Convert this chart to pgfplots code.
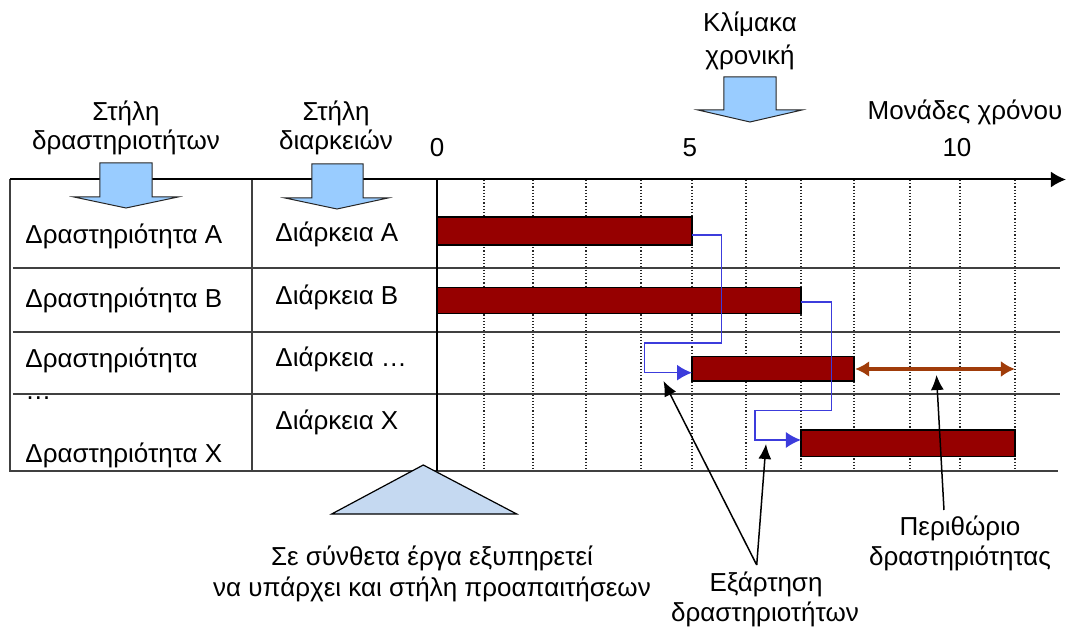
\documentclass[border=0pt]{standalone}
\usepackage{fontspec}
\setmainfont{Liberation Sans}
\usepackage{pgfplots}
\pgfplotsset{compat=1.18}
\usetikzlibrary{arrows.meta}
\definecolor{barred}{RGB}{150,0,0}
\definecolor{slack}{RGB}{160,60,10}
\definecolor{dep}{RGB}{60,60,220}
\definecolor{blk}{RGB}{153,204,255}
\definecolor{tri}{RGB}{197,217,241}
\begin{document}
\begin{tikzpicture}[font=\fontsize{13}{15.6}\selectfont]
\begin{axis}[width=535.5pt,height=315pt,scale only axis,hide axis,clip=false,
  xmin=-8.5686,xmax=12.4314,ymin=0,ymax=630,y dir=reverse]
\coordinate (SW) at (rel axis cs:0,0);
\coordinate (NE) at (rel axis cs:1,1);
% dotted time grid
\pgfplotsinvokeforeach{0.922,1.882,2.922,4.0,5.0,6.059,7.137,8.176,9.275,10.255,11.333}{
  \addplot[densely dotted, black!85, line width=0.6pt] coordinates {(#1,180) (#1,471)};
}
% table lines
\addplot[black!75, line width=1pt] coordinates {(-8.314,268.3) (12.216,268.3)};
\addplot[black!75, line width=1pt] coordinates {(-8.314,332.5) (12.216,332.5)};
\addplot[black!75, line width=1pt] coordinates {(-8.314,394) (12.216,394)};
\addplot[black!75, line width=1pt] coordinates {(-8.39,471.5) (12.18,471.5)};
\addplot[black!75, line width=1pt] coordinates {(-8.373,179.5) (-8.373,471.5)};
\addplot[black!75, line width=1pt] coordinates {(-3.627,179.5) (-3.627,471.5)};
\addplot[black, line width=0.6pt] coordinates {(0,179.5) (0,471.5)};
\addplot[black, line width=1pt, -{Latex[length=7.5pt,width=8pt]}] coordinates {(-8.373,179.5) (12.333,179.5)};
% bars
\addplot[fill=barred, draw=black, line width=0.6pt] coordinates {(0,217) (5,217) (5,245) (0,245)} -- cycle;
\addplot[fill=barred, draw=black, line width=0.6pt] coordinates {(0,287.3) (7.137,287.3) (7.137,313.3) (0,313.3)} -- cycle;
\addplot[fill=barred, draw=black, line width=0.6pt] coordinates {(5,356.3) (8.176,356.3) (8.176,381) (5,381)} -- cycle;
\addplot[fill=barred, draw=black, line width=0.6pt] coordinates {(7.137,430) (11.333,430) (11.333,456.7) (7.137,456.7)} -- cycle;
% dependencies
\addplot[dep, line width=0.8pt, -{Latex[length=7.5pt,width=8pt]}] coordinates {(5,235) (5.58,235) (5.58,343.3) (4.071,343.3) (4.071,372.7) (5,372.7)};
\addplot[dep, line width=0.8pt, -{Latex[length=7.5pt,width=8pt]}] coordinates {(7.137,302.3) (7.733,302.3) (7.733,410.7) (6.231,410.7) (6.231,440) (7.137,440)};
% slack
\addplot[slack, line width=1.6pt, {Latex[length=7pt,width=8pt]}-{Latex[length=7pt,width=8pt]}] coordinates {(8.2,369) (11.333,369)};
% annotation arrows
\addplot[black, line width=0.75pt, -{Latex[length=7.5pt,width=6.5pt]}] coordinates {(6.269,565) (4.441,381)};
\addplot[black, line width=0.75pt, -{Latex[length=7.5pt,width=6.5pt]}] coordinates {(6.269,565) (6.451,444)};
\addplot[black, line width=0.75pt, -{Latex[length=7.5pt,width=6.5pt]}] coordinates {(9.941,510) (9.794,375)};
% block arrows
\addplot[fill=blk, draw=black!85, line width=0.5pt] coordinates {(-6.608,163) (-5.588,163) (-5.588,197) (-5.078,197) (-6.098,208) (-7.118,197) (-6.608,197)} -- cycle;
\addplot[fill=blk, draw=black!85, line width=0.5pt] coordinates {(-2.451,164) (-1.451,164) (-1.451,198) (-0.961,198) (-1.961,209) (-2.980,198) (-2.451,198)} -- cycle;
\addplot[fill=blk, draw=black!85, line width=0.5pt] coordinates {(5.627,77) (6.647,77) (6.647,110) (7.157,110) (6.137,122) (5.118,110) (5.627,110)} -- cycle;
% triangle
\addplot[fill=tri, draw=black, line width=0.6pt] coordinates {(-0.269,465) (1.563,514) (-2.065,514)} -- cycle;
% texts
\begin{scope}[every node/.style={inner sep=0pt}]
\node[anchor=base] at (axis cs:-6.098,121) {Στήλη};
\node[anchor=base] at (axis cs:-6.098,150) {δραστηριοτήτων};
\node[anchor=base] at (axis cs:-1.980,121) {Στήλη};
\node[anchor=base] at (axis cs:-1.980,150) {διαρκειών};
\node[anchor=base] at (axis cs:6.137,31.7) {Κλίμακα};
\node[anchor=base] at (axis cs:6.137,65) {χρονική};
\node[anchor=base] at (axis cs:10.353,120) {Μονάδες χρόνου};
\node[anchor=base] at (axis cs:0,157) {0};
\node[anchor=base] at (axis cs:4.96,157) {5};
\node[anchor=base] at (axis cs:10.196,157) {10};
\node[anchor=base west] at (axis cs:-8.078,244) {Δραστηριότητα A};
\node[anchor=base west] at (axis cs:-8.078,308) {Δραστηριότητα B};
\node[anchor=base west] at (axis cs:-8.078,368) {Δραστηριότητα};
\node[anchor=base west] at (axis cs:-8.078,400) {…};
\node[anchor=base west] at (axis cs:-8.078,463) {Δραστηριότητα X};
\node[anchor=base west] at (axis cs:-3.176,242) {Διάρκεια A};
\node[anchor=base west] at (axis cs:-3.176,305) {Διάρκεια B};
\node[anchor=base west] at (axis cs:-3.176,367) {Διάρκεια …};
\node[anchor=base west] at (axis cs:-3.176,430) {Διάρκεια X};
\node[anchor=base] at (axis cs:-0.098,565) {Σε σύνθετα έργα εξυπηρετεί};
\node[anchor=base] at (axis cs:-0.098,596.7) {να υπάρχει και στήλη προαπαιτήσεων};
\node[anchor=base] at (axis cs:6.451,591.7) {Εξάρτηση};
\node[anchor=base] at (axis cs:6.431,621.7) {δραστηριοτήτων};
\node[anchor=base] at (axis cs:10.255,535) {Περιθώριο};
\node[anchor=base] at (axis cs:10.255,565) {δραστηριότητας};
\end{scope}
\end{axis}
\pgfresetboundingbox
\path[use as bounding box] (SW) rectangle (NE);
\end{tikzpicture}
\end{document}
